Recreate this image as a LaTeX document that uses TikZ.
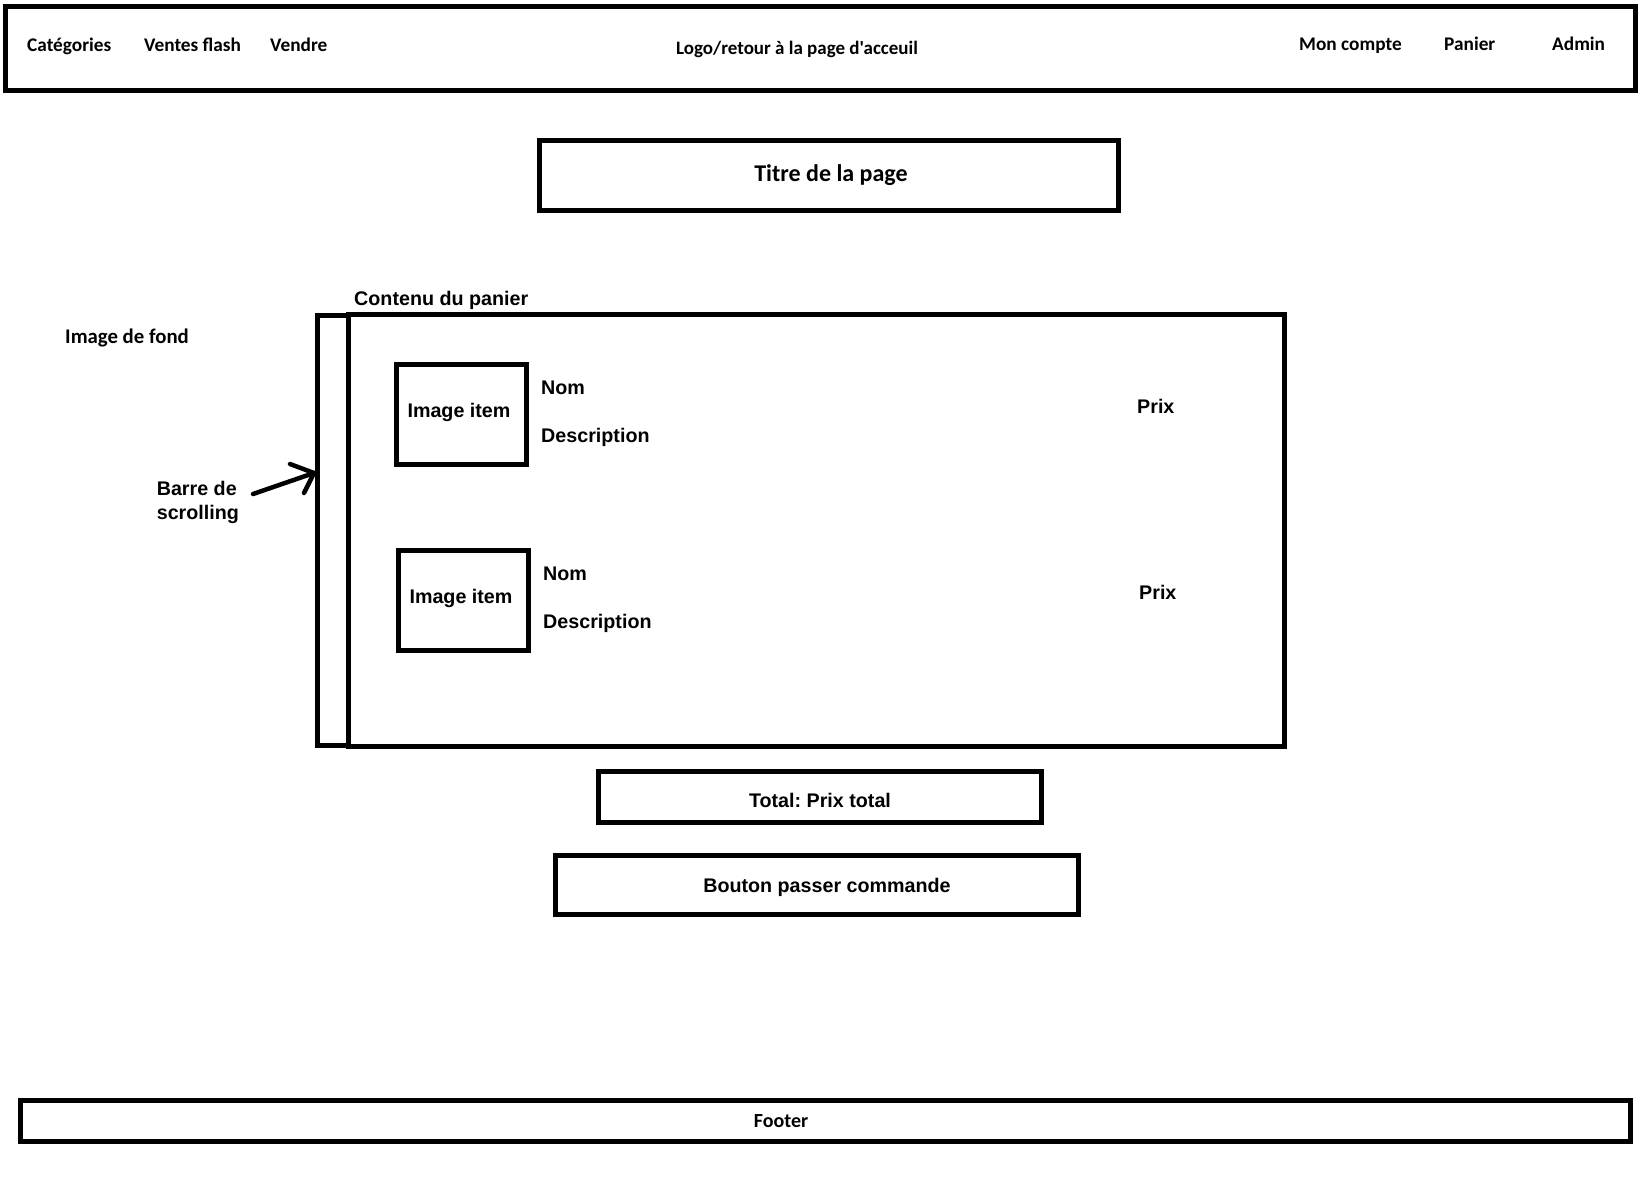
\documentclass[tikz,border=0pt]{standalone}
\usepackage{fontspec}
\newfontfamily\calfont{Carlito}
\newfontfamily\arifont{Liberation Sans}
\frenchspacing
\begin{document}
\begin{tikzpicture}[x=1pt,y=-1pt,
  box/.style={draw, line width=5pt, rectangle, inner sep=0pt},
  cal/.style={font=\calfont\bfseries\fontsize{19.3}{23}\selectfont, inner sep=0pt},
  ari/.style={font=\arifont\bfseries\fontsize{19.7}{23}\selectfont, inner sep=0pt},
  arrowline/.style={line width=4.5pt, line cap=round, line join=round}]
\useasboundingbox (0,0) rectangle (1644,1183);
\fill[white] (0,0) rectangle (1644,1183);
% navbar
\node[box, minimum width=1630pt, minimum height=84pt] (nav) at (820,48.5) {};
\node[cal, anchor=base west] (cat) at (27,51) {Catégories};
\node[cal, anchor=base west] (vf) at (144,51) {Ventes flash};
\node[cal, anchor=base west] (vendre) at (270,51) {Vendre};
\node[cal, font=\calfont\bfseries\fontsize{19}{23}\selectfont, anchor=base west] (logo) at (676,54) {Logo/retour à la page d'acceuil};
\node[cal, anchor=base west] (compte) at (1299,50) {Mon compte};
\node[cal, anchor=base west] (panier) at (1444,50) {Panier};
\node[cal, anchor=base west] (admin) at (1552,50) {Admin};
% title
\node[box, minimum width=579pt, minimum height=70pt] (titre) at (828.5,175.5) {};
\node[cal, font=\calfont\bfseries\fontsize{24}{28}\selectfont, anchor=base] (titretxt) at (831,181) {Titre de la page};
% background label
\node[cal, font=\calfont\bfseries\fontsize{20.8}{24}\selectfont, anchor=base west] (fond) at (65,343.5) {Image de fond};
% cart content
\node[ari, anchor=base west] (contenu) at (354,305) {Contenu du panier};
\node[box, minimum width=31pt, minimum height=429.5pt] (scroll) at (333,530.3) {};
\node[box, minimum width=936pt, minimum height=431.5pt] (panel) at (816,530.3) {};
% items
\node[box, minimum width=130pt, minimum height=100pt] (img1) at (461,414) {};
\node[ari, anchor=base] (img1txt) at (459,417) {Image item};
\node[ari, anchor=base west] (nom1) at (541,394) {Nom};
\node[ari, anchor=base west] (desc1) at (541,442) {Description};
\node[ari, anchor=base west] (prix1) at (1137,413) {Prix};
\node[box, minimum width=130pt, minimum height=100pt] (img2) at (463,600) {};
\node[ari, anchor=base] (img2txt) at (461,603) {Image item};
\node[ari, anchor=base west] (nom2) at (543,580) {Nom};
\node[ari, anchor=base west] (desc2) at (543,628) {Description};
\node[ari, anchor=base west] (prix2) at (1139,599) {Prix};
% scrollbar label and arrow
\node[ari, anchor=base west] (barre) at (156.6,495) {Barre de};
\node[ari, anchor=base west] (scrolling) at (156.6,519) {scrolling};
\coordinate (arrstart) at (253,494);
\coordinate (arrtip) at (314,473);
\coordinate (arrh1) at (290,464);
\coordinate (arrh2) at (304,493);
\draw[arrowline] (arrstart) -- (arrtip);
\draw[arrowline] (arrh1) -- (arrtip) -- (arrh2);
% total and button
\node[box, minimum width=443pt, minimum height=51.5pt] (total) at (819.5,797) {};
\node[ari, anchor=base] (totaltxt) at (820,807) {Total: Prix total};
\node[box, minimum width=522.5pt, minimum height=59pt] (bouton) at (816.75,884.5) {};
\node[ari, anchor=base] (boutontxt) at (827,892) {Bouton passer commande};
% footer
\node[box, minimum width=1610pt, minimum height=40.5pt] (footer) at (825.5,1120.75) {};
\node[cal, font=\calfont\bfseries\fontsize{20}{24}\selectfont, anchor=base] (footertxt) at (781,1127.5) {Footer};
\end{tikzpicture}
\end{document}
